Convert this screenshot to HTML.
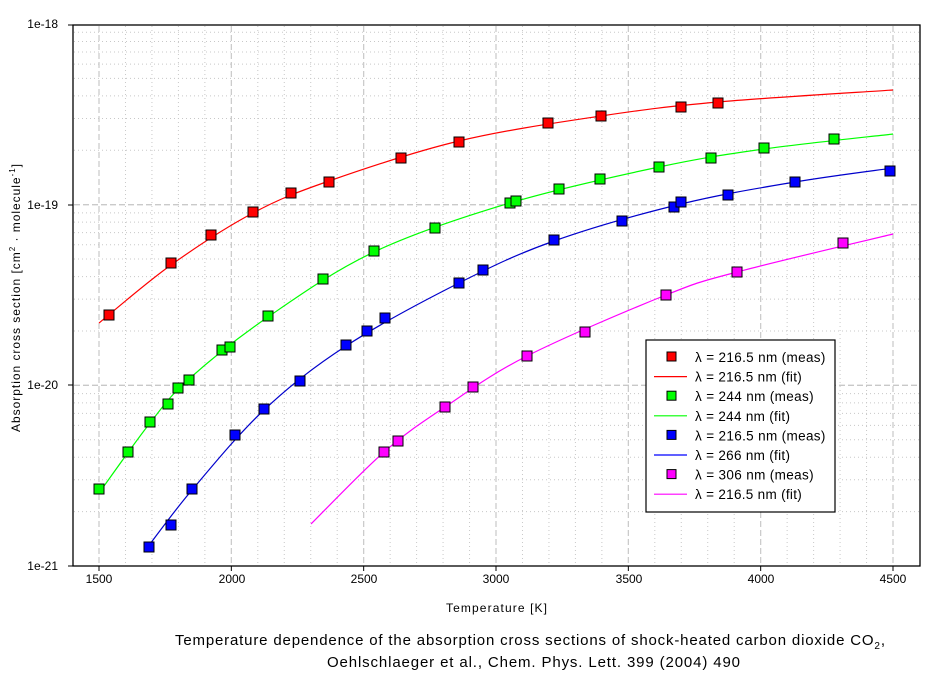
<!DOCTYPE html>
<html><head><meta charset="utf-8"><style>
body{margin:0;background:#fff;}
svg{display:block;font-family:"Liberation Sans",Arial,sans-serif;}
</style></head><body>
<svg id="s" width="944" height="676" viewBox="0 0 944 676" xmlns="http://www.w3.org/2000/svg">
<rect width="944" height="676" fill="#fff"/>
<g id="grid"></g>
<g id="curves" fill="none" stroke-width="1.2"></g>
<g id="marks" stroke="#000" stroke-width="1"></g>
<rect x="73" y="25" width="847" height="541" fill="none" stroke="#000" stroke-width="1.3"/>
<g id="ticks" stroke="#000" stroke-width="1"></g>
<g font-size="12" fill="#000">
<text x="58" y="28" text-anchor="end">1e-18</text>
<text x="58" y="209" text-anchor="end">1e-19</text>
<text x="58" y="389" text-anchor="end">1e-20</text>
<text x="58" y="570" text-anchor="end">1e-21</text>
<text x="99" y="583" text-anchor="middle">1500</text>
<text x="232" y="583" text-anchor="middle">2000</text>
<text x="364" y="583" text-anchor="middle">2500</text>
<text x="496" y="583" text-anchor="middle">3000</text>
<text x="629" y="583" text-anchor="middle">3500</text>
<text x="761" y="583" text-anchor="middle">4000</text>
<text x="893" y="583" text-anchor="middle">4500</text>
<text x="446" y="612" textLength="101" lengthAdjust="spacing">Temperature [K]</text>
<text transform="translate(20,432) rotate(-90)" textLength="268" lengthAdjust="spacing">Absorption cross section  [cm<tspan font-size="8" dy="-5">2</tspan><tspan dy="5"> · molecule</tspan><tspan font-size="8" dy="-5">-1</tspan><tspan dy="5">]</tspan></text>
</g>
<g font-size="15" fill="#000">
<text x="175" y="645" textLength="710" lengthAdjust="spacing">Temperature dependence of the absorption cross sections of shock-heated carbon dioxide CO<tspan font-size="10" dy="4">2</tspan><tspan dy="-4">,</tspan></text>
<text x="327" y="667" textLength="413" lengthAdjust="spacing">Oehlschlaeger et al., Chem. Phys. Lett. 399 (2004) 490</text>
</g>
<g id="legend">
<rect x="646" y="340" width="189" height="172" fill="#fff" stroke="#000" stroke-width="1.2"/>
</g>
</svg>
<script>
const NS="http://www.w3.org/2000/svg";
function el(p,t,a,txt){const e=document.createElementNS(NS,t);for(const k in a)e.setAttribute(k,a[k]);if(txt)e.textContent=txt;document.getElementById(p).appendChild(e);return e;}
for(let T=1500;T<=4500;T+=100){const x=99+(T-1500)*0.26467;if(x<=74||x>=919)continue;
 const maj=T%500==0;el('grid','line',{x1:x,y1:26,x2:x,y2:565,stroke:'#c8c8c8','stroke-dasharray':maj?'6,3':'1,3','stroke-width':maj?1.2:1});}
for(let d=0;d<3;d++){const y0=24+d*180.67;for(let m=1;m<=10;m++){const y=y0+180.67-Math.log10(m)*180.67;
 const maj=m==1||m==10;if(y<26||y>565)continue;el('grid','line',{x1:74,y1:y,x2:919,y2:y,stroke:'#c8c8c8','stroke-dasharray':maj?'6,3':'1,3','stroke-width':maj?1.2:1});}}
for(let T=1500;T<=4500;T+=500){const x=99+(T-1500)*0.26467;el('ticks','line',{x1:x,y1:566,x2:x,y2:571});}
[25,205,385,566].forEach(y=>el('ticks','line',{x1:68,y1:y,x2:73,y2:y}));
function cr(p){let d=`M${p[0][0]},${p[0][1]}`;for(let i=0;i<p.length-1;i++){const p0=p[i-1]||p[i],p1=p[i],p2=p[i+1],p3=p[i+2]||p2;
 d+=` C${p1[0]+(p2[0]-p0[0])/6},${p1[1]+(p2[1]-p0[1])/6} ${p2[0]-(p3[0]-p1[0])/6},${p2[1]-(p3[1]-p1[1])/6} ${p2[0]},${p2[1]}`;}return d;}
const S=[
{c:'#ff0000',k:[[99,323],[171,265],[253,213],[329,181],[459,141],[601,116],[718,102],[893,90]],
 p:[[109,315],[171,263],[211,235],[253,212],[291,193],[329,182],[401,158],[459,142],[548,123],[601,116],[681,107],[718,103]]},
{c:'#00ff00',k:[[99,493],[150,423],[189,379],[268,317],[374,252],[510,203],[659,167],[764,149],[893,134]],
 p:[[99,489],[128,452],[150,422],[168,404],[178,388],[189,380],[222,350],[230,347],[268,316],[323,279],[374,251],[435,228],[510,203],[516,201],[559,189],[600,179],[659,167],[711,158],[764,148],[834,139]]},
{c:'#0000ff',k:[[147,548],[192,490],[264,410],[346,346],[459,283],[554,241],[681,204],[795,182],[893,168]],
 p:[[149,547],[171,525],[192,489],[235,435],[264,409],[300,381],[346,345],[367,331],[385,318],[459,283],[483,270],[554,240],[622,221],[674,207],[681,202],[728,195],[795,182],[890,171]]},
{c:'#ff00ff',k:[[311,524],[384,452],[445,407],[527,356],[666,295],[737,272],[893,234]],
 p:[[384,452],[398,441],[445,407],[473,387],[527,356],[585,332],[666,295],[737,272],[843,243]]}];
const lc=['#ff0000','#00ff00','#0000ff','#ff00ff'];
S.forEach(s=>{el('curves','path',{d:cr(s.k),stroke:s.c==='#0000ff'?'#0000cc':s.c});
 s.p.forEach(q=>el('marks','rect',{x:q[0]-5,y:q[1]-5,width:10,height:10,fill:s.c}));});
const labs=['λ = 216.5 nm (meas)','λ = 216.5 nm (fit)','λ = 244 nm (meas)','λ = 244 nm (fit)','λ = 216.5 nm (meas)','λ = 266 nm (fit)','λ = 306 nm (meas)','λ = 216.5 nm (fit)'];
labs.forEach((t,i)=>{const y=357+i*19.6;const c=lc[i>>1];
 if(i%2==0)el('legend','rect',{x:667,y:y-5,width:9,height:9,fill:c,stroke:'#000'});
 else el('legend','line',{x1:654,y1:y,x2:687,y2:y,stroke:c,'stroke-width':1.2});
 const tx=el('legend','text',{x:695,y:y+5,'font-size':'13.5',fill:'#000'},t);
 const w=tx.getComputedTextLength();tx.setAttribute('textLength',w*1.05);tx.setAttribute('lengthAdjust','spacing');});
</script>
</body></html>
